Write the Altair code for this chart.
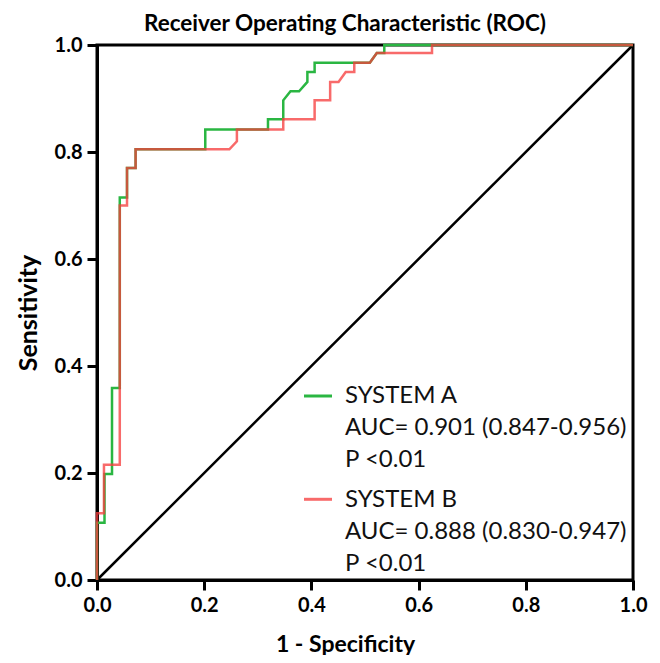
import altair as alt
import pandas as pd

# ---- data ----
sys_a_fpr = [0, 0, 0.014, 0.014, 0.028, 0.028, 0.0425, 0.0425, 0.056, 0.056, 0.072, 0.072,
             0.202, 0.202, 0.319, 0.319, 0.3475, 0.3475, 0.361, 0.377, 0.3925, 0.3925,
             0.406, 0.406, 0.509, 0.522, 0.536, 0.536, 1.0]
sys_a_sens = [0, 0.107, 0.107, 0.198, 0.198, 0.359, 0.359, 0.715, 0.715, 0.770, 0.770, 0.805,
              0.805, 0.842, 0.842, 0.861, 0.861, 0.8966, 0.9135, 0.9135, 0.931, 0.9497,
              0.9497, 0.967, 0.967, 0.985, 0.985, 1.0, 1.0]

sys_b_fpr = [0, 0, 0.013, 0.013, 0.0425, 0.0425, 0.056, 0.056, 0.072, 0.072, 0.247, 0.261,
             0.261, 0.3475, 0.3475, 0.406, 0.406, 0.435, 0.435, 0.4506, 0.464, 0.48, 0.48,
             0.509, 0.522, 0.625, 0.625, 1.0]
sys_b_sens = [0, 0.125, 0.125, 0.2156, 0.2156, 0.70, 0.70, 0.770, 0.770, 0.805, 0.805, 0.82,
              0.842, 0.842, 0.861, 0.861, 0.8966, 0.8966, 0.931, 0.931, 0.9497, 0.9497, 0.967,
              0.967, 0.985, 0.985, 1.0, 1.0]

systems = ["SYSTEM A", "SYSTEM B"]
colors = ["#2ab642", "#f63c3c"]
legend_a = ["SYSTEM A", "AUC= 0.901 (0.847-0.956)", "P <0.01"]
legend_b = ["SYSTEM B", "AUC= 0.888 (0.830-0.947)", "P <0.01"]
title_text = "Receiver Operating Characteristic (ROC)"
ref_x = [0, 1]
ref_y = [0, 1]
ticks = [0.0, 0.2, 0.4, 0.6, 0.8, 1.0]

rows = []
for i, (x, y) in enumerate(zip(sys_a_fpr, sys_a_sens)):
    rows.append({"system": systems[0], "fpr": x, "sens": y, "idx": i})
for i, (x, y) in enumerate(zip(sys_b_fpr, sys_b_sens)):
    rows.append({"system": systems[1], "fpr": x, "sens": y, "idx": i})
df = pd.DataFrame(rows)
ref = pd.DataFrame({"fpr": ref_x, "sens": ref_y})

FONT = "Lato"
W, H = 536, 535

xaxis = alt.Axis(values=ticks, format=".1f", grid=False, title="1 - Specificity",
                 labelFlush=False, titleFontSize=23,
                 titleX=248, titleY=64, titleAlign="center", titleBaseline="middle")
yaxis = alt.Axis(values=ticks, format=".1f", grid=False, title="Sensitivity",
                 labelFlush=False, titleFontSize=25,
                 titleX=-69, titleY=H / 2, titleAngle=270, titleAlign="center",
                 titleBaseline="middle")

xs = alt.Scale(domain=[0, 1], nice=False)
ys = alt.Scale(domain=[0, 1], nice=False)

diag = alt.Chart(ref).mark_line(color="black", strokeWidth=2.5).encode(
    x=alt.X("fpr:Q", scale=xs, axis=xaxis),
    y=alt.Y("sens:Q", scale=ys, axis=yaxis),
)

curves = alt.Chart(df).mark_line(strokeWidth=2.5).encode(
    x=alt.X("fpr:Q", scale=xs),
    y=alt.Y("sens:Q", scale=ys),
    color=alt.Color("system:N", scale=alt.Scale(domain=systems, range=colors), legend=None),
    opacity=alt.Opacity("system:N", scale=alt.Scale(domain=systems, range=[1.0, 0.765]),
                        legend=None),
    order=alt.Order("idx:Q"),
)

dummy = pd.DataFrame({"a": [0]})
layers = [diag, curves]

layers.append(alt.Chart(dummy).mark_text(
    align="center", baseline="alphabetic", font=FONT, fontSize=22.5, fontWeight="bold",
    color="black").encode(x=alt.value(248), y=alt.value(-14), text=alt.value(title_text)))

leg_specs = [(legend_a, colors[0], 1.0, 351, 358.3), (legend_b, colors[1], 0.765, 454.3, 462.3)]
for lines, col, op, ly, ty in leg_specs:
    layers.append(alt.Chart(dummy).mark_rule(color=col, opacity=op, strokeWidth=3).encode(
        x=alt.value(207), x2=alt.value(235), y=alt.value(ly)))
    for k, t in enumerate(lines):
        layers.append(alt.Chart(dummy).mark_text(
            align="left", baseline="alphabetic", font=FONT, fontSize=24, color="#111111"
        ).encode(x=alt.value(248), y=alt.value(ty + k * 31.7), text=alt.value(t)))

chart = alt.layer(*layers).properties(
    width=W, height=H,
    autosize=alt.AutoSizeParams(type="none"),
    padding={"left": 89, "top": 37, "right": 19, "bottom": 75},
).configure_view(stroke="black", strokeWidth=3).configure_axis(
    domainColor="black", domainWidth=3, tickColor="black", tickWidth=3, tickSize=10,
    labelFont=FONT, labelFontWeight="bold", labelFontSize=20, labelColor="black",
    labelPadding=5,
    titleFont=FONT, titleFontWeight="bold", titleColor="black",
)

chart.save("out.html", embed_options={"renderer": "svg", "actions": False})
